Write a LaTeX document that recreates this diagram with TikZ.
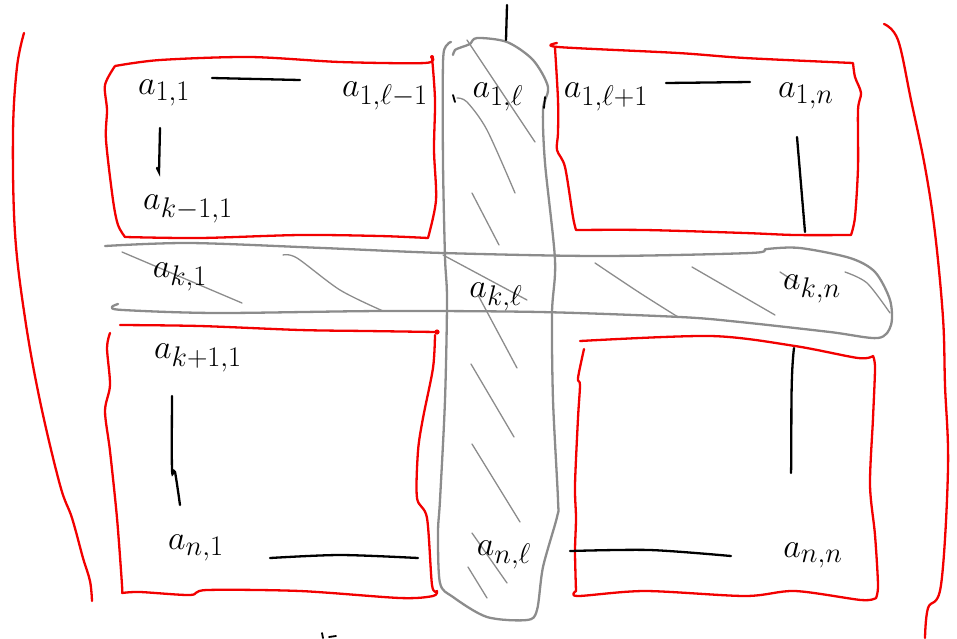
\documentclass[tikz,border=0pt]{standalone}
\usetikzlibrary{positioning}
\definecolor{minor}{HTML}{F20000}
\definecolor{strip}{HTML}{8C8C8C}
\definecolor{ink}{HTML}{000000}
\begin{document}
\begin{tikzpicture}[x=1pt,y=-1pt,
          redline/.style={minor,line width=2.3pt,line cap=round,line join=round},
          band/.style={strip,line width=2.3pt,line cap=round,line join=round},
          hatch/.style={strip,line width=1.3pt,line cap=round},
          dots/.style={ink,line width=2.3pt,line cap=round},
          entry/.style={font=\fontsize{24.88}{30}\selectfont,inner sep=0pt,scale=1.37,transform shape}]
        \useasboundingbox (0,0) rectangle (957,638);
        % brackets
        \draw[redline] plot[smooth,tension=0.6] coordinates
          {(24,33) (17,67) (13,133) (15,233) (25,318) (40,401) (60,485) (72,518) (83,558) (90,581) (92,601)};
        \draw[redline] plot[smooth,tension=0.6] coordinates
          {(884,24) (898,40) (911,100) (925,167) (935,233) (943,318) (945,385) (948,468) (941,585) (928,608) (925,638)};
        % column l and row k
        \draw[band] plot[smooth,tension=0.5] coordinates
          {(451,42) (446,46) (443,63) (443,163) (445,257) (447,300) (445,400) (440,500) (438,533) (440,583)
           (453,597) (487,617) (527,620) (537,610) (543,567) (557,517) (558,500) (553,400) (552,313)
           (555,260) (545,163) (543,110) (548,87) (533,60) (507,42) (477,38) (470,44) (462,47) (455,50) (453,55)};
        \draw[band] plot[smooth,tension=0.5] coordinates
          {(105,246) (190,243) (323,248) (443,253) (600,256) (750,253) (767,249) (800,248) (850,258)
           (875,272) (890,300) (891,325) (878,338) (830,332) (740,322) (680,317) (540,312) (383,311)
           (217,313) (123,310) (112,307) (118,304)};
        \draw[hatch] (467,40) -- (535,142);
        \draw[hatch] plot[smooth] coordinates {(457,98) (467,102) (487,130) (515,193)};
        \draw[hatch] (472,193) -- (499,245);
        \draw[hatch] (478,295) -- (517,368);
        \draw[hatch] (471,364) -- (514,437);
        \draw[hatch] (472,444) -- (520,522);
        \draw[hatch] (472,533) -- (507,583);
        \draw[hatch] (468,567) -- (487,598);
        \draw[hatch] (122,252) -- (242,303);
        \draw[hatch] plot[smooth] coordinates {(283,255) (297,258) (340,290) (383,311)};
        \draw[hatch] (443,255) -- (527,300);
        \draw[hatch] plot[smooth] coordinates {(595,263) (640,293) (678,317)};
        \draw[hatch] (692,267) -- (775,315);
        \draw[hatch] (780,272) -- (797,283);
        \draw[hatch] plot[smooth] coordinates {(845,272) (867,283) (890,313)};
        % minors
        \draw[redline] plot[smooth,tension=0.5] coordinates {(115,66) (160,60) (250,57) (340,62) (425,63) (432,57)}
          -- plot[smooth,tension=0.5] coordinates {(432,57) (435,100) (434,150) (436,200) (428,238)}
          -- plot[smooth,tension=0.5] coordinates {(428,238) (380,236) (300,235) (200,238) (125,237)}
          -- plot[smooth,tension=0.5] coordinates {(125,237) (118,225) (113,200) (106,140) (107,110) (105,85) (115,66)};
        \fill[minor] (432,57) circle (2pt);
        \draw[redline] plot[smooth,tension=0.5] coordinates {(557,43) (558,47) (678,53) (745,58) (853,63)}
          -- plot[smooth,tension=0.5] coordinates {(853,63) (855,77) (861,93) (858,110) (858,167) (855,217) (851,235)}
          -- plot[smooth,tension=0.5] coordinates {(851,235) (795,235) (745,233) (645,230) (576,230)}
          -- plot[smooth,tension=0.5] coordinates {(576,230) (573,217) (565,167) (557,150) (558,133) (558,100) (555,48)};
        \draw[redline] plot[smooth,tension=0.5] coordinates {(120,325) (200,326) (300,330) (367,331) (437,332)};
        \fill[minor] (437,332) circle (2.6pt);
        \draw[redline] plot[smooth,tension=0.5] coordinates {(110,333) (107,348) (110,385) (105,411) (110,451) (117,518) (122,585) (122,593)}
          -- plot[smooth,tension=0.5] coordinates {(122,593) (140,592) (190,595) (207,590) (300,591) (400,598) (433,596) (437,591)}
          -- plot[smooth,tension=0.5] coordinates {(437,591) (432,585) (427,518) (417,498) (418,451) (423,418) (433,368) (435,335)};
        \draw[redline] plot[smooth,tension=0.5] coordinates {(580,341) (711,336) (795,346) (858,358) (873,356)}
          -- plot[smooth,tension=0.5] coordinates {(873,356) (875,368) (873,418) (870,485) (875,535) (878,585) (876,598)}
          -- plot[smooth,tension=0.5] coordinates {(876,598) (861,600) (795,591) (745,596) (645,591) (578,596) (576,591)}
          -- plot[smooth,tension=0.5] coordinates {(576,591) (575,551) (576,518) (575,485) (578,418) (580,385) (578,378) (584,349)};
        % dots between entries
        \draw[dots] (212,78) -- (300,80);
        \draw[dots] (160,128) -- (159,172) -- (157,168);
        \draw[dots] (666,83) -- (750,82);
        \draw[dots] (797,137) -- (805,232);
        \draw[dots] plot[smooth] coordinates {(172,396) (172,470) (175,472) (180,505)};
        \draw[dots] plot[smooth] coordinates {(270,558) (340,555) (418,558)};
        \draw[dots] (794,348) .. controls (790,380) and (792,440) .. (791,473);
        \draw[dots] plot[smooth] coordinates {(570,551) (650,550) (731,556)};
        \draw[dots] (507,5) -- (506,40);
        \draw[dots,line width=1.8pt] (453,95) -- (455,102);
        \draw[dots,line width=1.8pt] (545,97) -- (544,108);
        \draw[dots,line width=1.8pt] (322,633) -- (323,638);
        \draw[dots,line width=1.8pt] (329,637) -- (336,636);
        % entries
        \node[entry] (a11)  at (164,93)  {$a_{1,1}$};
        \node[entry] (a1lm) at (385,96)  {$a_{1,\ell-1}$};
        \node[entry] (a1l)  at (498,97)  {$a_{1,\ell}$};
        \node[entry] (a1lp) at (606,97)  {$a_{1,\ell+1}$};
        \node[entry] (a1n)  at (806,96)  {$a_{1,n}$};
        \node[entry] (akm1) at (188,209) {$a_{k-1,1}$};
        \node[entry] (ak1)  at (180,277) {$a_{k,1}$};
        \node[entry] (akl)  at (496,297) {$a_{k,\ell}$};
        \node[entry] (akn)  at (812,289) {$a_{k,n}$};
        \node[entry] (akp1) at (198,358) {$a_{k+1,1}$};
        \node[entry] (an1)  at (196,548) {$a_{n,1}$};
        \node[entry] (anl)  at (504,555) {$a_{n,\ell}$};
        \node[entry] (ann)  at (813,555) {$a_{n,n}$};
      \end{tikzpicture}
\end{document}
